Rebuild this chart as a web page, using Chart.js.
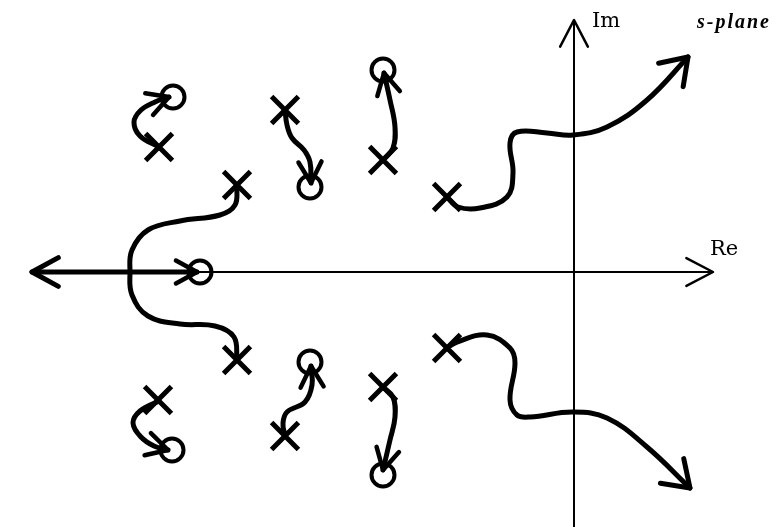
<!DOCTYPE html>
<html>
<head>
<meta charset="utf-8">
<script src="https://cdn.jsdelivr.net/npm/chart.js@4/dist/chart.umd.min.js"></script>
<style>
  html, body { margin: 0; padding: 0; background: #fff; }
  canvas { display: block; }
</style>
</head>
<body>
<canvas id="locus" width="778" height="527"></canvas>
<script>
// open-loop poles (x) and zeros (o) of the sketch, in s-plane units
const poleRe = [-4.15, -2.89, -1.91, -1.27, -3.37, -4.16, -2.89, -1.91, -1.27, -3.37]
const poleIm = [1.25, 1.62, 1.12, 0.75, 0.87, -1.28, -1.64, -1.15, -0.76, -0.88]
const zeroRe = [-4.01, -2.64, -1.91, -3.74, -4.02, -2.64, -1.91]
const zeroIm = [1.75, 0.85, 2.02, 0, -1.78, -0.90, -2.03]

// locus branches [re, im], drawn from pole to zero / infinity
const loopUpper = [[-4.15, 1.25], [-4.34, 1.36], [-4.40, 1.50], [-4.33, 1.62], [-4.19, 1.70], [-4.05, 1.75]]
const wiggleUpper = [[-2.89, 1.62], [-2.87, 1.47], [-2.82, 1.34], [-2.70, 1.22], [-2.64, 1.10], [-2.63, 0.89]]
const riseUpper = [[-1.91, 1.12], [-1.81, 1.24], [-1.79, 1.45], [-1.84, 1.72], [-1.90, 1.99]]
const sCurve = [[-3.37, 0.87], [-3.39, 0.67], [-3.54, 0.57], [-3.94, 0.51], [-4.26, 0.42], [-4.42, 0.22], [-4.44, 0],
                [-4.42, -0.23], [-4.26, -0.44], [-3.94, -0.52], [-3.59, -0.54], [-3.40, -0.65], [-3.37, -0.88]]
const realLeft = [[-4.44, 0], [-5.42, 0]]
const realRight = [[-4.44, 0], [-3.77, 0]]
const asymUpper = [[-1.27, 0.75], [-1.16, 0.65], [-0.94, 0.64], [-0.67, 0.75], [-0.61, 0.99], [-0.64, 1.29], [-0.57, 1.40],
                   [-0.27, 1.39], [-0.01, 1.37], [0.33, 1.45], [0.73, 1.72], [1.14, 2.15]]
const asymLower = [[-1.27, -0.76], [-1.17, -0.70], [-0.87, -0.63], [-0.64, -0.76], [-0.59, -0.91], [-0.64, -1.28], [-0.57, -1.43],
                   [-0.44, -1.45], [-0.01, -1.40], [0.33, -1.46], [0.73, -1.75], [1.16, -2.16]]
const loopLower = [[-4.15, -1.29], [-4.34, -1.39], [-4.41, -1.51], [-4.33, -1.65], [-4.20, -1.74], [-4.06, -1.78]]
const wiggleLower = [[-2.89, -1.64], [-2.91, -1.51], [-2.87, -1.40], [-2.69, -1.30], [-2.62, -1.13], [-2.63, -0.94]]
const fallLower = [[-1.91, -1.15], [-1.81, -1.25], [-1.79, -1.45], [-1.84, -1.68], [-1.91, -1.98]]

const reAxis = [[-5.42, 0], [1.39, 0]]
const imAxis = [[0, -2.6], [0, 2.52]]

const pts = arr => arr.map(p => ({x: p[0], y: p[1]}))

function branch(arr, arrow) {
  return {
    data: pts(arr), showLine: true, borderColor: '#000', borderWidth: 5,
    tension: 0.4, pointRadius: 0, borderCapStyle: 'round', borderJoinStyle: 'round',
    fill: false, arrow: arrow
  }
}
function axis(arr) {
  return {
    data: pts(arr), showLine: true, borderColor: '#000', borderWidth: 2,
    tension: 0, pointRadius: 0, fill: false, arrow: {len: 30, ang: 0.48, width: 2.5}
  }
}

const toZero = {len: 24, ang: 0.5, width: 4.5}
const toInf = {len: 30, ang: 0.6, width: 5}

// draws an arrowhead at the last point of any dataset that asks for one
const arrowHeads = {
  id: 'arrowHeads',
  afterDatasetsDraw(chart) {
    const ctx = chart.ctx
    chart.data.datasets.forEach((ds, i) => {
      if (!ds.arrow) return
      const els = chart.getDatasetMeta(i).data
      const tip = els[els.length - 1], prev = els[els.length - 2]
      const a = Math.atan2(tip.y - prev.y, tip.x - prev.x)
      ctx.save()
      ctx.strokeStyle = '#000'
      ctx.lineWidth = ds.arrow.width
      ctx.lineCap = 'round'
      ctx.lineJoin = 'round'
      ctx.beginPath()
      ctx.moveTo(tip.x - ds.arrow.len * Math.cos(a - ds.arrow.ang), tip.y - ds.arrow.len * Math.sin(a - ds.arrow.ang))
      ctx.lineTo(tip.x, tip.y)
      ctx.lineTo(tip.x - ds.arrow.len * Math.cos(a + ds.arrow.ang), tip.y - ds.arrow.len * Math.sin(a + ds.arrow.ang))
      ctx.stroke()
      ctx.restore()
    })
  },
  afterDraw(chart) {
    const ctx = chart.ctx
    const xs = chart.scales.x, ys = chart.scales.y
    const ox = xs.getPixelForValue(0)
    ctx.save()
    ctx.fillStyle = '#000'
    ctx.textBaseline = 'alphabetic'
    ctx.font = '21px "DejaVu Serif", serif'
    ctx.fillText('Im', ox + 18, ys.getPixelForValue(2.52) + 7)
    ctx.fillText('Re', xs.getPixelForValue(1.39) - 3, ys.getPixelForValue(0) - 17)
    ctx.font = 'italic bold 20px "Liberation Serif", serif'
    ctx.letterSpacing = '2px'
    ctx.fillText('s-plane', 697, 28)
    ctx.restore()
  }
}

const config = {
  type: 'scatter',
  data: {
    datasets: [
      axis(reAxis),
      axis(imAxis),
      branch(loopUpper, toZero),
      branch(wiggleUpper, toZero),
      branch(riseUpper, toZero),
      branch(sCurve, null),
      branch(realLeft, {len: 30, ang: 0.5, width: 5}),
      branch(realRight, toZero),
      branch(asymUpper, toInf),
      branch(asymLower, toInf),
      branch(loopLower, toZero),
      branch(wiggleLower, toZero),
      branch(fallLower, toZero),
      {
        data: poleRe.map((re, i) => ({x: re, y: poleIm[i]})),
        pointStyle: 'crossRot', pointRadius: 19, borderWidth: 5,
        borderColor: '#000', backgroundColor: '#000', showLine: false
      },
      {
        data: zeroRe.map((re, i) => ({x: re, y: zeroIm[i]})),
        pointStyle: 'circle', pointRadius: 11.5, borderWidth: 4,
        borderColor: '#000', backgroundColor: 'rgba(0,0,0,0)', showLine: false
      }
    ]
  },
  options: {
    responsive: false,
    animation: false,
    layout: {padding: 0, autoPadding: false},
    plugins: {legend: {display: false}, tooltip: {enabled: false}},
    scales: {
      x: {type: 'linear', min: -5.74, max: 2.04, display: false},
      y: {type: 'linear', min: -2.55, max: 2.72, display: false}
    }
  },
  plugins: [arrowHeads]
}

const myChart = new Chart(document.getElementById('locus').getContext('2d'), config)
</script>
</body>
</html>
